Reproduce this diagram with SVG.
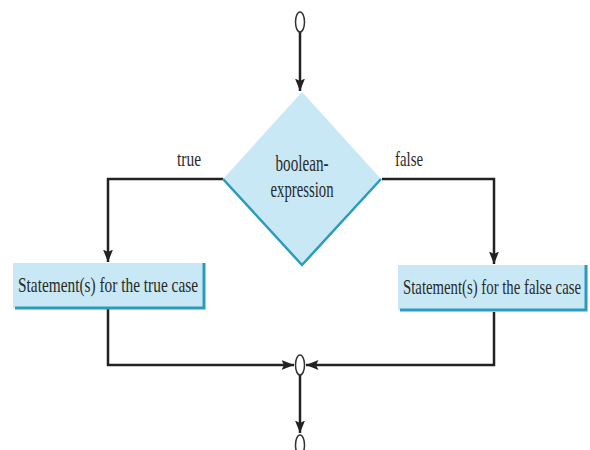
<svg xmlns="http://www.w3.org/2000/svg" width="590" height="450" viewBox="0 0 590 450">
<style>
.ln{fill:none;stroke:#222;stroke-width:2.5}
.fill{fill:#c8e8f5}
.edge{fill:none;stroke:#2a9bbf;stroke-width:2.5}
.oval{fill:#fff;stroke:#333;stroke-width:1.5}
text{font-family:"Liberation Serif","Times New Roman",serif;fill:#2a2a2a;font-size:22px}
.big{font-size:24px}
</style>
<defs>
<marker id="ah" viewBox="0 0 10 10" refX="10" refY="5" markerWidth="5" markerHeight="5" orient="auto" markerUnits="strokeWidth">
<path d="M0,1 L10,5 L0,9 L2,5 z" fill="#222"/>
</marker>
</defs>
<g id="connectors">
<path class="ln" d="M300,32 V91" marker-end="url(#ah)"/>
<path class="ln" d="M223,179 H108 V262" marker-end="url(#ah)"/>
<path class="ln" d="M382,179 H494 V264" marker-end="url(#ah)"/>
<path class="ln" d="M108,309 V365 H294" marker-end="url(#ah)"/>
<path class="ln" d="M494,312 V365 H306" marker-end="url(#ah)"/>
<path class="ln" d="M300,375 V433" marker-end="url(#ah)"/>
</g>
<g id="start">
<ellipse class="oval" cx="300" cy="22" rx="4.5" ry="10"/>
</g>
<g id="decision">
<polygon class="fill" points="302,92 381,179 302,265 223,179"/>
<polyline class="edge" points="223,179 302,265 381,179"/>
<text class="big" x="302" y="171" text-anchor="middle" textLength="53" lengthAdjust="spacingAndGlyphs">boolean-</text>
<text class="big" x="302" y="197" text-anchor="middle" textLength="63" lengthAdjust="spacingAndGlyphs">expression</text>
</g>
<g id="label-true"><text x="189" y="166" text-anchor="middle" textLength="24" lengthAdjust="spacingAndGlyphs">true</text></g>
<g id="label-false"><text x="409" y="166" text-anchor="middle" textLength="28" lengthAdjust="spacingAndGlyphs">false</text></g>
<g id="true-case">
<rect class="fill" x="13" y="263" width="191" height="45"/>
<polyline class="edge" points="204,263 204,308 15,308" style="stroke-width:3"/>
<text x="108" y="292" text-anchor="middle" textLength="180" lengthAdjust="spacingAndGlyphs">Statement(s) for the true case</text>
</g>
<g id="false-case">
<rect class="fill" x="398" y="265" width="188" height="45"/>
<polyline class="edge" points="586,265 586,310 400,310" style="stroke-width:3"/>
<text x="492" y="294" text-anchor="middle" textLength="178" lengthAdjust="spacingAndGlyphs">Statement(s) for the false case</text>
</g>
<g id="merge">
<ellipse class="oval" cx="300" cy="365" rx="4.5" ry="10"/>
</g>
<g id="end">
<ellipse class="oval" cx="300" cy="445" rx="4.5" ry="10"/>
</g>
</svg>
